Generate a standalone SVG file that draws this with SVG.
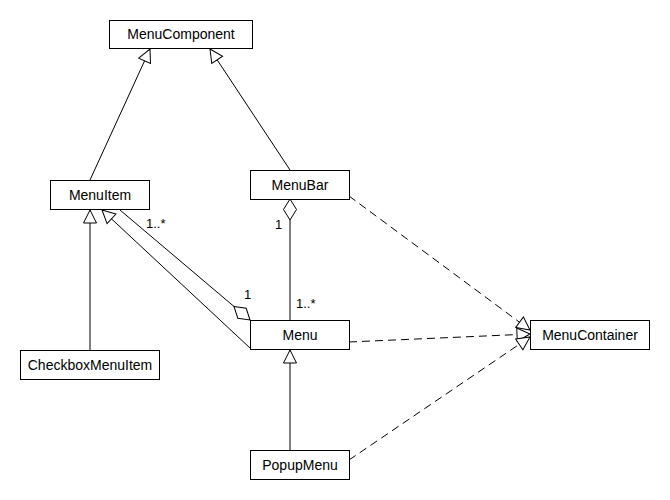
<svg xmlns="http://www.w3.org/2000/svg" width="670" height="500" viewBox="0 0 670 500">
<style>
.box{fill:#fff;stroke:#000;stroke-width:1}
.lbl{font-family:"Liberation Sans",Arial,sans-serif;font-size:14px;fill:#000;text-anchor:middle}
.m{font-family:"Liberation Sans",Arial,sans-serif;font-size:13px;fill:#000}
.ln{fill:none;stroke:#000;stroke-width:1}
.gen{marker-end:url(#tri)}
.agg{marker-end:url(#dia)}
.real{stroke-dasharray:8,5;marker-end:url(#tri)}
</style>
<defs>
<marker id="tri" markerUnits="userSpaceOnUse" markerWidth="16" markerHeight="16" refX="13" refY="7" orient="auto" overflow="visible">
<path d="M0,0.5 L13,7 L0,13.5 Z" fill="#fff" stroke="#000" stroke-width="1"/>
</marker>
<marker id="dia" markerUnits="userSpaceOnUse" markerWidth="24" markerHeight="16" refX="21" refY="6.5" orient="auto" overflow="visible">
<path d="M0,6.5 L10.5,0 L21,6.5 L10.5,13 Z" fill="#fff" stroke="#000" stroke-width="1"/>
</marker>
</defs>
<rect width="670" height="500" fill="#fff"/>
<g id="connectors">
<path class="ln gen" d="M90,180 L150,49"/>
<path class="ln gen" d="M290,170 L210,49"/>
<path class="ln gen" d="M90,350 L90,210"/>
<path class="ln gen" d="M250,348 L102,210"/>
<path class="ln gen" d="M290,450 L290,350"/>
<path class="ln agg" d="M120,210 L250,320"/>
<path class="ln agg" d="M290,320 L290,199"/>
<path class="ln real" d="M349,196 L530,330"/>
<path class="ln real" d="M349,342 L530,334"/>
<path class="ln real" d="M349,460 L530,337"/>
<text class="m" x="146" y="228">1..*</text>
<text class="m" x="244" y="299">1</text>
<text class="m" x="275" y="229">1</text>
<text class="m" x="296" y="308">1..*</text>
</g>
<g id="MenuComponent"><rect class="box" x="109.5" y="20.5" width="143" height="28"/><text class="lbl" x="181" y="39">MenuComponent</text></g>
<g id="MenuItem"><rect class="box" x="50.5" y="180.5" width="99" height="29"/><text class="lbl" x="100" y="200">MenuItem</text></g>
<g id="MenuBar"><rect class="box" x="250.5" y="170.5" width="99" height="29"/><text class="lbl" x="300" y="190">MenuBar</text></g>
<g id="Menu"><rect class="box" x="250.5" y="320.5" width="99" height="29"/><text class="lbl" x="300" y="340">Menu</text></g>
<g id="MenuContainer"><rect class="box" x="530.5" y="320.5" width="119" height="29"/><text class="lbl" x="590" y="340">MenuContainer</text></g>
<g id="CheckboxMenuItem"><rect class="box" x="20.5" y="350.5" width="139" height="29"/><text class="lbl" x="90" y="370">CheckboxMenuItem</text></g>
<g id="PopupMenu"><rect class="box" x="250.5" y="450.5" width="99" height="29"/><text class="lbl" x="300" y="470">PopupMenu</text></g>
</svg>
